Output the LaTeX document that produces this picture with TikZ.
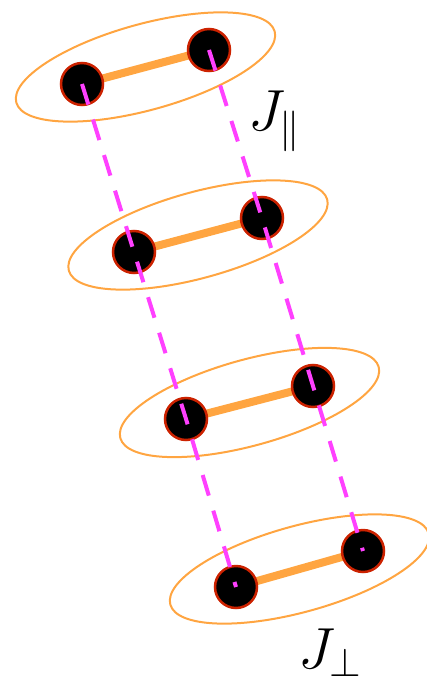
\RequirePackage{fix-cm}
\documentclass[tikz,border=0pt]{standalone}
\usepackage{amsmath}
\definecolor{bondorange}{HTML}{FFA541}
\definecolor{rimred}{HTML}{CC2200}
\definecolor{linkmag}{HTML}{FF40FF}
\tikzset{
  atom/.style={circle, fill=black, draw=rimred, line width=2.5pt, minimum size=42pt, inner sep=0pt},
  bond/.style={bondorange, line width=8pt},
  ring/.style={bondorange, line width=2pt},
  link/.style={linkmag, line width=4pt, dash pattern=on 21.5pt off 15.7pt},
  lab/.style={inner sep=0pt, anchor=base west, font=\fontsize{58}{68}\selectfont}
}
\begin{document}
\begin{tikzpicture}[x=1pt, y=-1pt]
\useasboundingbox (0,0) rectangle (427,682);
% pair positions
\foreach \i/\lx/\ly/\rx/\ry in {1/82/84/209/50, 2/134/252/262/218, 3/186/419/313/386, 4/236/587/363/551}{
  \draw[ring, shift={({(\lx+\rx)/2},{(\ly+\ry)/2})}, rotate=15.4] (0,0) ellipse (134pt and 43pt);
  \coordinate (l\i) at (\lx,\ly);
  \coordinate (r\i) at (\rx,\ry);
  \draw[bond] (l\i) -- (r\i);
  \node[atom] (L\i) at (l\i) {};
  \node[atom] (R\i) at (r\i) {};
}
\draw[link] (L1.center) -- (L2.center) -- (L3.center) -- (L4.center);
\draw[link] (R1.center) -- (R2.center) -- (R3.center) -- (R4.center);
\node[lab] (jpar) at (248,131) {$J_{\parallel}$};
\node[lab] (jperp) at (298,668) {$J_{\perp}$};
\end{tikzpicture}
\end{document}
